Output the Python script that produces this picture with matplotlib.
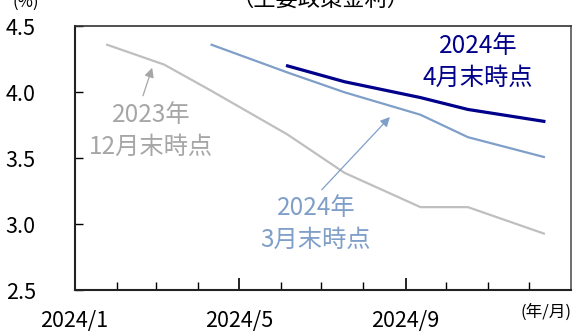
import matplotlib
matplotlib.use("Agg")
import matplotlib.pyplot as plt
import matplotlib.dates as mdates
import matplotlib.ticker as mticker
import numpy as np
import pandas as pd

plt.rcParams['font.family'] = ['Noto Sans CJK JP', 'DejaVu Sans']

# ECB meeting dates (x positions of the curves)
dates = pd.to_datetime(["2024-01-25", "2024-03-07", "2024-04-11", "2024-06-06",
                        "2024-07-18", "2024-09-12", "2024-10-17", "2024-12-12"])
# expected policy rate paths (%)
dec2023 = [4.36, 4.21, 4.01, 3.68, 3.39, 3.13, 3.13, 2.93]
mar2024 = [np.nan, np.nan, 4.36, 4.15, 4.00, 3.83, 3.66, 3.51]
apr2024 = [np.nan, np.nan, np.nan, 4.20, 4.08, 3.96, 3.87, 3.78]

major_dates = pd.to_datetime(["2024-01-01", "2024-05-01", "2024-09-01"])
major_labels = ["2024/1", "2024/5", "2024/9"]
minor_dates = pd.date_range("2024-01-01", "2024-12-01", freq="MS")

label_dec = "2023年\n12月末時点"
label_mar = "2024年\n3月末時点"
label_apr = "2024年\n4月末時点"
title_text = "（主要政策金利）"
yticks = [2.5, 3.0, 3.5, 4.0, 4.5]

c_gray_line = "#BFBFBF"
c_gray_text = "#A6A6A6"
c_blue = "#7F9FC9"
c_navy = "#00008B"

fig = plt.figure(figsize=(5.83, 3.34), dpi=100)
ax = fig.add_axes([0.128, 0.1308, 0.8514, 0.7905])

ax.plot(dates, dec2023, color=c_gray_line, lw=1.6)
ax.plot(dates, mar2024, color=c_blue, lw=1.6)
ax.plot(dates, apr2024, color=c_navy, lw=2.3)

ax.set_xlim(pd.Timestamp("2024-01-01"), pd.Timestamp("2025-01-01"))
ax.set_ylim(2.5, 4.5)
ax.set_yticks(yticks)
ax.set_yticklabels([f"{v:.1f}" for v in yticks])

ax.xaxis.set_major_locator(mticker.FixedLocator(mdates.date2num(major_dates)))
ax.xaxis.set_major_formatter(mticker.FixedFormatter(major_labels))
ax.xaxis.set_minor_locator(mticker.FixedLocator(mdates.date2num(minor_dates)))

ax.tick_params(axis='both', which='both', direction='in', labelsize=15.5, colors='black')
ax.tick_params(axis='x', which='major', length=9, width=1.2, pad=14)
ax.tick_params(axis='x', which='minor', length=6, width=1.0)
ax.tick_params(axis='y', which='major', length=6, width=1.0, pad=28)
ax.tick_params(axis='y', which='minor', length=0)

for s in ['left', 'bottom']:
    ax.spines[s].set_linewidth(1.5)
    ax.spines[s].set_color('#222222')
ax.spines['top'].set_linewidth(1.2)
ax.spines['top'].set_color('#333333')
ax.spines['right'].set_linewidth(1.2)
ax.spines['right'].set_color('#555555')

# annotations
ax.text(0.813, 0.865, label_apr, transform=ax.transAxes, ha='center', va='center',
        color=c_navy, fontsize=17.5, linespacing=1.3)
ax.text(0.154, 0.603, label_dec, transform=ax.transAxes, ha='center', va='center',
        color=c_gray_text, fontsize=17.5, linespacing=1.3)
ax.text(0.486, 0.251, label_mar, transform=ax.transAxes, ha='center', va='center',
        color=c_blue, fontsize=17.5, linespacing=1.3)

ax.annotate("", xy=(0.158, 0.853), xytext=(0.136, 0.727), xycoords='axes fraction',
            arrowprops=dict(arrowstyle='-|>', color=c_gray_text, lw=0.9, mutation_scale=14))
ax.annotate("", xy=(0.639, 0.664), xytext=(0.494, 0.373), xycoords='axes fraction',
            arrowprops=dict(arrowstyle='-|>', color=c_blue, lw=0.9, mutation_scale=14))

fig.text(0.549, 0.968, title_text, ha='center', va='bottom', fontsize=16, color='black')
fig.text(0.045, 0.968, "(%)", ha='center', va='bottom', fontsize=12, color='black')
fig.text(0.937, 0.066, "(年/月)", ha='center', va='center', fontsize=12, color='black')

fig.savefig("out.png", dpi=100)
